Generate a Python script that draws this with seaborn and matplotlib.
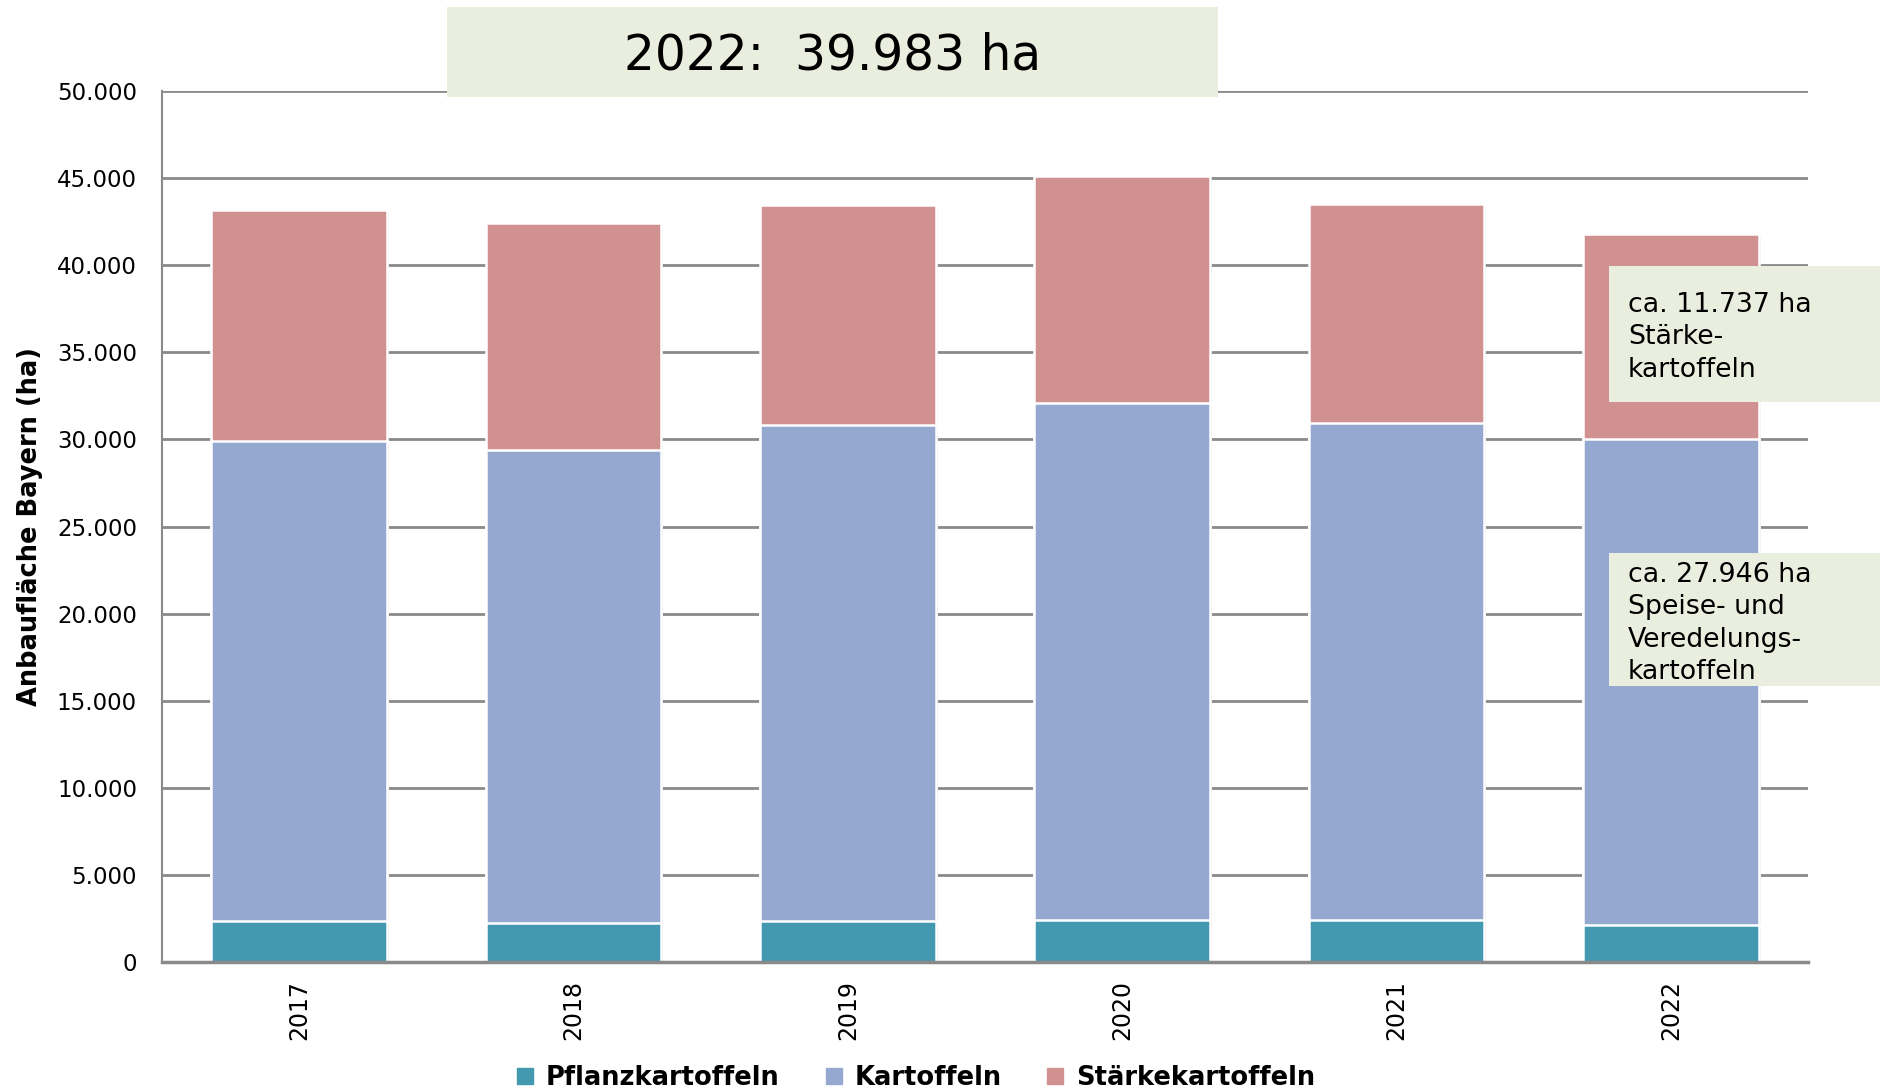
import matplotlib
matplotlib.use("Agg")
import matplotlib.pyplot as plt
import matplotlib.patheffects as pe
import seaborn as sns
import pandas as pd
from matplotlib.patches import Rectangle
from matplotlib.lines import Line2D
from matplotlib.ticker import FuncFormatter

# values (ha)
years = ['2017', '2018', '2019', '2020', '2021', '2022']
pflanz = [2340, 2270, 2340, 2410, 2410, 2100]
kartoffeln = [27550, 27140, 28510, 29680, 28510, 27946]
staerke = [13290, 13010, 12610, 13020, 12610, 11737]

series_names = ['Pflanzkartoffeln', 'Kartoffeln', 'Stärkekartoffeln']
series_colors = ['#4399B0', '#95A9D0', '#D29191']
y_ticks = [0, 5000, 10000, 15000, 20000, 25000, 30000, 35000, 40000, 45000, 50000]

title_text = '2022:  39.983 ha'
note_staerke = 'ca. 11.737 ha\nStärke-\nkartoffeln'
note_speise = 'ca. 27.946 ha\nSpeise- und\nVeredelungs-\nkartoffeln'
box_color = '#EAEEDF'
grid_color = '#8A8A8A'

sns.set_style('white')
plt.rcParams['font.family'] = ['DejaVu Sans']
plt.rcParams['text.color'] = 'black'


def build_frame() -> pd.DataFrame:
    """
    Cumulative levels for a stacked bar drawn with seaborn
    """
    df = pd.DataFrame({
        'Jahr': years,
        'Pflanzkartoffeln': pflanz,
        'Kartoffeln': kartoffeln,
        'Stärkekartoffeln': staerke,
    })
    df['lvl1'] = df['Pflanzkartoffeln']
    df['lvl2'] = df['lvl1'] + df['Kartoffeln']
    df['lvl3'] = df['lvl2'] + df['Stärkekartoffeln']
    return df


df = build_frame()

fig = plt.figure(figsize=(18.8, 10.92), dpi=100)
ax = fig.add_axes([0.0862, 0.119, 0.8755, 0.7976])

shadow = [pe.SimplePatchShadow(offset=(1.5, -1.5), shadow_rgbFace='#999999', alpha=0.35), pe.Normal()]
for col, color in zip(['lvl3', 'lvl2', 'lvl1'], series_colors[::-1]):
    sns.barplot(data=df, x='Jahr', y=col, color=color, saturation=1, width=0.64,
                edgecolor='white', linewidth=1.8, ax=ax)
for bar in ax.patches:
    bar.set_path_effects(shadow)

ax.set_xlim(-0.5, 5.5)
ax.set_ylim(0, 50000)
ax.set_yticks(y_ticks)
ax.yaxis.set_major_formatter(FuncFormatter(lambda v, p: f'{v:,.0f}'.replace(',', '.')))
ax.yaxis.grid(True, color=grid_color, linewidth=2)
ax.set_axisbelow(True)

for side in ['top', 'right']:
    ax.spines[side].set_visible(False)
ax.spines['left'].set_color(grid_color)
ax.spines['left'].set_linewidth(1.5)
ax.spines['bottom'].set_color(grid_color)
ax.spines['bottom'].set_linewidth(2.5)

ax.tick_params(axis='y', length=0, pad=18, labelsize=16.5, labelcolor='black')
ax.tick_params(axis='x', length=0, pad=13, labelsize=17, labelcolor='black', rotation=90)
ax.set_xlabel('')
ax.set_ylabel('Anbaufläche Bayern (ha)', fontsize=18.5, fontweight='bold', labelpad=10, color='black')

# title box on top
fig.patches.append(Rectangle((0.2378, 0.9112), 0.4101, 0.0824, transform=fig.transFigure,
                             facecolor=box_color, edgecolor='none', zorder=5))
fig.text(0.4426, 0.9495, title_text, ha='center', va='center', fontsize=35, zorder=6)

# annotation boxes on the right
fig.patches.append(Rectangle((0.8559, 1 - 402 / 1092), 0.1441, 136 / 1092, transform=fig.transFigure,
                             facecolor=box_color, edgecolor='none', zorder=5))
fig.text(1628 / 1880, 1 - 292 / 1092, note_staerke, ha='left', va='top', fontsize=19.3,
         linespacing=1.32, zorder=6)
fig.patches.append(Rectangle((0.8559, 1 - 686 / 1092), 0.1441, 133 / 1092, transform=fig.transFigure,
                             facecolor=box_color, edgecolor='none', zorder=5))
fig.text(1628 / 1880, 1 - 562 / 1092, note_speise, ha='left', va='top', fontsize=19.3,
         linespacing=1.32, zorder=6)

handles = [Line2D([], [], marker='s', linestyle='none', markersize=11, color=c) for c in series_colors]
fig.legend(handles, series_names, loc='center', bbox_to_anchor=(0.486, 0.0125), ncol=3, frameon=False,
           prop={'size': 18.5, 'weight': 'bold'}, handletextpad=0.3, columnspacing=1.6, handlelength=1)

fig.savefig('out.png', dpi=100)
plt.close(fig)
